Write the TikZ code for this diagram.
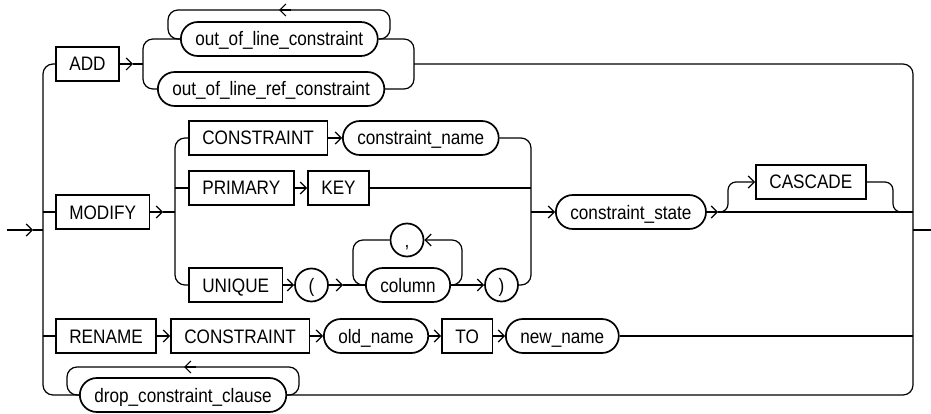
\documentclass[tikz,border=0pt]{standalone}
\usepackage{fontspec}
\setmainfont{Liberation Sans}[FakeStretch=0.88]
\usetikzlibrary{arrows.meta}
\begin{document}
\begin{tikzpicture}[x=1pt,y=-1pt,
  line width=1.2pt,
  base/.style={draw, line width=1.7pt, minimum height=34pt, inner xsep=13.5pt, inner ysep=0pt,
    text height=14pt, text depth=0pt, font=\fontsize{19.5}{23}\selectfont, anchor=west},
  term/.style={base, rectangle},
  nterm/.style={base, rounded corners=17pt, inner xsep=14.5pt},
  circ/.style={base, circle, minimum size=33pt, inner sep=0pt, anchor=center},
  arr/.style={-{Straight Barb[length=6pt,width=12pt]}},
  rc/.style={rounded corners=10pt}]
\useasboundingbox (0,0) rectangle (931,414);

% nodes
\node[term] (add) at (55,64) {ADD};
\node[nterm] (olc) at (180,39) {out\_of\_line\_constraint};
\node[nterm] (olrc) at (157,89) {out\_of\_line\_ref\_constraint};
\node[term] (modify) at (55,212) {MODIFY};
\node[term] (con) at (188,138) {CONSTRAINT};
\node[nterm] (cname) at (342,138) {constraint\_name};
\node[term] (primary) at (188,188) {PRIMARY};
\node[term] (key) at (307,188) {KEY};
\node[term] (unique) at (188,285) {UNIQUE};
\node[circ] (lp) at (311.5,285) {(};
\node[nterm] (column) at (365,285) {column};
\node[circ] (comma) at (407,240) {,};
\node[circ] (rp) at (501.5,285) {)};
\node[nterm] (cstate) at (555,212) {constraint\_state};
\node[term] (cascade) at (755,182) {CASCADE};
\node[term] (rename) at (55,336) {RENAME};
\node[term] (con2) at (170,336) {CONSTRAINT};
\node[nterm] (oldname) at (323,336) {old\_name};
\node[term] (to) at (441,336) {TO};
\node[nterm] (newname) at (505,336) {new\_name};
\node[nterm] (drop) at (79,395) {drop\_constraint\_clause};

% coordinates
\coordinate (entry) at (7,230);
\coordinate (entrytip) at (33,230);
\coordinate (lrail) at (43,230);
\coordinate (rrail) at (913,230);
\coordinate (exit) at (931,230);

% entry / exit
\draw[arr] (entry) -- (entrytip);
\draw (entrytip) -- (lrail);
\draw (rrail) -- (exit);

% left rail
\draw[rc] (add.west) -- (43,64) -- (43,395) -- (drop.west);
\draw (43,212) -- (modify.west);
\draw (43,336) -- (rename.west);

% right rail
\draw[rc] (414,64) -- (913,64) -- (913,395) -- (drop.east);

% ADD branch
\draw[arr] (add.east) -- (133,64);
\draw (133,64) -- (143,64);
\draw[rc] (olrc.west) -- (143,89) -- (143,39) -- (olc.west);
\draw[rc] (olc.east) -- (390,39) -- (390,10) -- (168,10) -- (168,39) -- (olc.west);
\draw[arr] (291,10) -- (279,10);
\draw[rc] (olc.east) -- (414,39) -- (414,89) -- (olrc.east);

% MODIFY branch
\draw[arr] (modify.east) -- (163,212);
\draw (163,212) -- (175,212);
\draw[rc] (con.west) -- (175,138) -- (175,285) -- (unique.west);
\draw (175,188) -- (primary.west);
\draw[arr] (con.east) -- (cname.west);
\draw[arr] (primary.east) -- (key.west);
\draw[arr] (unique.east) -- (lp.west);
\draw[arr] (lp.east) -- (343,285);
\draw (343,285) -- (column.west);
\draw[rc] (comma.west) -- (353,240) -- (353,285) -- (column.west);
\draw[rc,arr] (column.east) -- (462,285) -- (462,240) -- (comma.east);
\draw[arr] (column.east) -- (rp.west);
\draw[rc] (cname.east) -- (531,138) -- (531,285) -- (rp.east);
\draw (key.east) -- (531,188);
\draw[arr] (531,212) -- (cstate.west);
\draw[arr] (cstate.east) -- (718,212);
\draw (718,212) -- (913,212);
\draw[arr, rounded corners=8pt] (718,212) -- (728,212) -- (728,182) -- (cascade.west);
\draw[rounded corners=8pt] (cascade.east) -- (893,182) -- (893,212) -- (905,212);

% RENAME branch
\draw[arr] (rename.east) -- (con2.west);
\draw[arr] (con2.east) -- (oldname.west);
\draw[arr] (oldname.east) -- (to.west);
\draw[arr] (to.east) -- (newname.west);
\draw (newname.east) -- (913,336);

% drop loop
\draw[rc] (drop.east) -- (299,395) -- (299,367) -- (67,367) -- (67,395) -- (drop.west);
\draw[arr] (196,367) -- (184,367);
\end{tikzpicture}
\end{document}
